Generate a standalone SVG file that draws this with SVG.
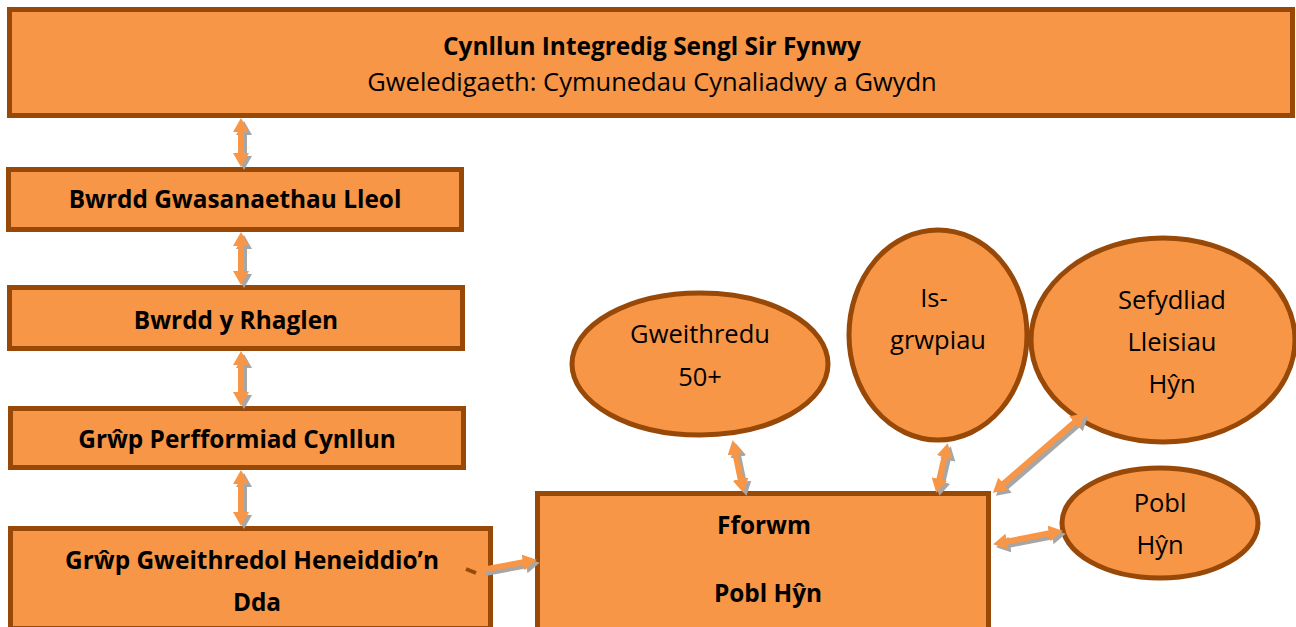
<svg xmlns="http://www.w3.org/2000/svg" width="1296" height="627" viewBox="0 0 1296 627">
<defs>
<style>
.box{fill:#F79646;stroke:#984807;stroke-width:5}
.t{font-family:"Open Sans","Liberation Sans",sans-serif;font-size:25.5px;fill:#000;text-anchor:middle}
.b{font-weight:bold;font-size:24.4px}
.sh{stroke:#A6A6A6;stroke-width:6;fill:none}
.ar{stroke:#F79646;stroke-width:6;fill:none}
</style>
<marker id="ah" viewBox="0 0 14 16" refX="2" refY="8" markerWidth="14" markerHeight="16" markerUnits="userSpaceOnUse" orient="auto-start-reverse"><path d="M0,0 L14,8 L0,16 z" fill="#F79646"/></marker>
<marker id="ahs" viewBox="0 0 14 16" refX="2" refY="8" markerWidth="14" markerHeight="16" markerUnits="userSpaceOnUse" orient="auto-start-reverse"><path d="M0,0 L14,8 L0,16 z" fill="#A6A6A6"/></marker>
</defs>
<rect width="1296" height="627" fill="#fff"/>
<g id="cynllun">
<rect class="box" x="9.5" y="9.5" width="1283" height="106"/>
<text class="t b" x="652" y="55">Cynllun Integredig Sengl Sir Fynwy</text>
<text class="t" x="652" y="91">Gweledigaeth: Cymunedau Cynaliadwy a Gwydn</text>
</g>
<g id="bwrdd-gwasanaethau">
<rect class="box" x="8.5" y="169.5" width="453" height="60"/>
<text class="t b" x="235" y="208">Bwrdd Gwasanaethau Lleol</text>
</g>
<g id="bwrdd-rhaglen">
<rect class="box" x="9.5" y="287.5" width="453" height="61"/>
<text class="t b" x="236" y="329">Bwrdd y Rhaglen</text>
</g>
<g id="grwp-perfformiad">
<rect class="box" x="10.5" y="408.5" width="453" height="59"/>
<text class="t b" x="237" y="448">Grŵp Perfformiad Cynllun</text>
</g>
<g id="grwp-gweithredol">
<rect class="box" x="10.5" y="528.5" width="480" height="100"/>
<text class="t b" x="252" y="569">Grŵp Gweithredol Heneiddio’n</text>
<text class="t b" x="257" y="611">Dda</text>
</g>
<g id="fforwm">
<rect class="box" x="537.5" y="493.5" width="451" height="136"/>
<text class="t b" x="764" y="534">Fforwm</text>
<text class="t b" x="768" y="602">Pobl Hŷn</text>
</g>
<g id="gweithredu50">
<ellipse class="box" cx="700" cy="364" rx="128" ry="71"/>
<text class="t" x="700" y="343">Gweithredu</text>
<text class="t" x="700" y="386">50+</text>
</g>
<g id="is-grwpiau">
<ellipse class="box" cx="938" cy="335" rx="89" ry="105"/>
<text class="t" x="934" y="307">Is-</text>
<text class="t" x="938" y="349">grwpiau</text>
</g>
<g id="sefydliad">
<ellipse class="box" cx="1163" cy="340" rx="132" ry="102"/>
<text class="t" x="1172" y="309">Sefydliad</text>
<text class="t" x="1172" y="351">Lleisiau</text>
<text class="t" x="1172" y="393">Hŷn</text>
</g>
<g id="pobl-hyn">
<ellipse class="box" cx="1160" cy="523" rx="98" ry="55"/>
<text class="t" x="1160" y="512">Pobl</text>
<text class="t" x="1160" y="554">Hŷn</text>
</g>
<g id="connectors">
<g transform="translate(3,3)">
<line class="sh" x1="241" y1="130" x2="241" y2="155" marker-start="url(#ahs)" marker-end="url(#ahs)"/>
<line class="sh" x1="241" y1="244" x2="241" y2="273" marker-start="url(#ahs)" marker-end="url(#ahs)"/>
<line class="sh" x1="241" y1="363" x2="241" y2="394" marker-start="url(#ahs)" marker-end="url(#ahs)"/>
<line class="sh" x1="241" y1="482" x2="241" y2="514" marker-start="url(#ahs)" marker-end="url(#ahs)"/>
<line class="sh" x1="482" y1="570" x2="525" y2="562" marker-end="url(#ahs)"/>
<line class="sh" x1="735" y1="452" x2="741" y2="481" marker-start="url(#ahs)" marker-end="url(#ahs)"/>
<line class="sh" x1="945" y1="455" x2="939" y2="481" marker-start="url(#ahs)" marker-end="url(#ahs)"/>
<line class="sh" x1="1076" y1="421" x2="1002" y2="485" marker-start="url(#ahs)" marker-end="url(#ahs)"/>
<line class="sh" x1="1051" y1="533" x2="1005" y2="542" marker-start="url(#ahs)" marker-end="url(#ahs)"/>
</g>
<line x1="466" y1="569" x2="476" y2="573" stroke="#984807" stroke-width="4"/>
<line class="ar" x1="241" y1="130" x2="241" y2="155" marker-start="url(#ah)" marker-end="url(#ah)"/>
<line class="ar" x1="241" y1="244" x2="241" y2="273" marker-start="url(#ah)" marker-end="url(#ah)"/>
<line class="ar" x1="241" y1="363" x2="241" y2="394" marker-start="url(#ah)" marker-end="url(#ah)"/>
<line class="ar" x1="241" y1="482" x2="241" y2="514" marker-start="url(#ah)" marker-end="url(#ah)"/>
<line class="ar" x1="482" y1="570" x2="525" y2="562" marker-end="url(#ah)"/>
<line class="ar" x1="735" y1="452" x2="741" y2="481" marker-start="url(#ah)" marker-end="url(#ah)"/>
<line class="ar" x1="945" y1="455" x2="939" y2="481" marker-start="url(#ah)" marker-end="url(#ah)"/>
<line class="ar" x1="1076" y1="421" x2="1002" y2="485" marker-start="url(#ah)" marker-end="url(#ah)"/>
<line class="ar" x1="1051" y1="533" x2="1005" y2="542" marker-start="url(#ah)" marker-end="url(#ah)"/>
</g>
</svg>
